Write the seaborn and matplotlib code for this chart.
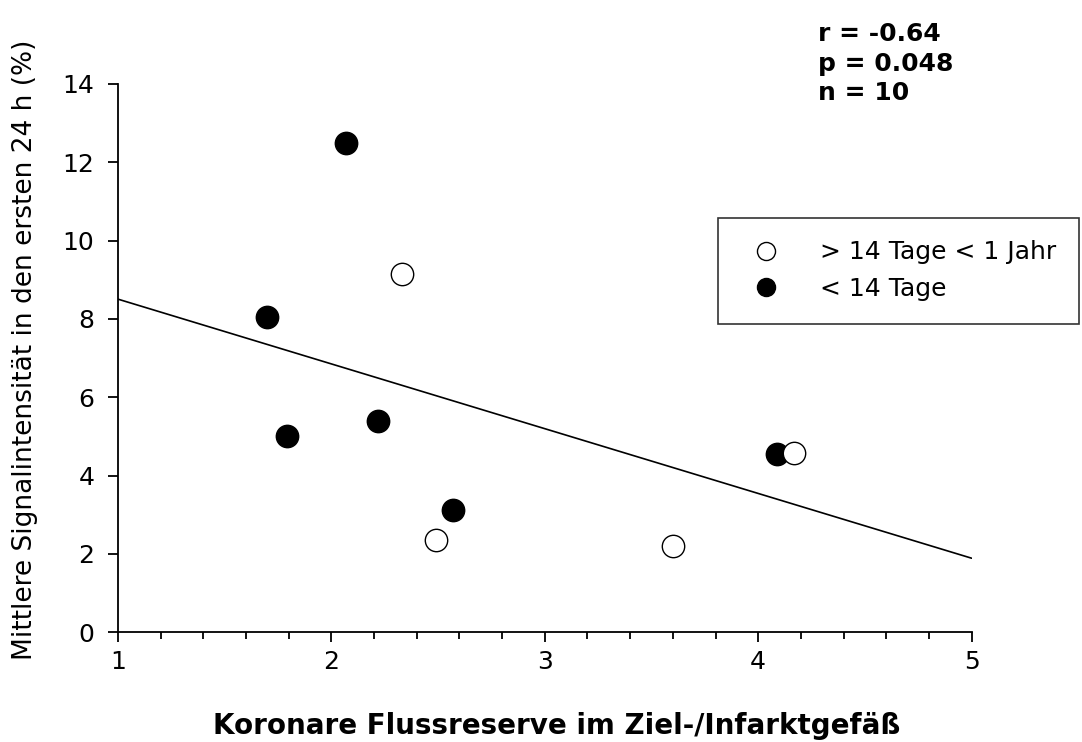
import matplotlib
matplotlib.use("Agg")
import matplotlib.pyplot as plt
import seaborn as sns
import numpy as np
import pandas as pd
from matplotlib.ticker import MultipleLocator
from matplotlib.lines import Line2D

# Data
x_early = [2.07, 1.70, 1.79, 2.22, 2.57, 4.09]   # < 14 Tage (filled)
y_early = [12.48, 8.05, 5.02, 5.38, 3.12, 4.55]
x_late = [2.33, 2.49, 3.60, 4.17]               # > 14 Tage < 1 Jahr (open)
y_late = [9.15, 2.35, 2.20, 4.57]
label_late = "> 14 Tage < 1 Jahr"
label_early = "< 14 Tage"
stats_text = "r = -0.64\np = 0.048\nn = 10"
xlabel = "Koronare Flussreserve im Ziel-/Infarktgefäß"
ylabel = "Mittlere Signalintensität in den ersten 24 h (%)"

sns.set_theme(style="white")
plt.rcParams['font.family'] = ['DejaVu Sans']
plt.rcParams['text.color'] = 'black'

fig = plt.figure(figsize=(10.82, 7.42), dpi=100)
ax = fig.add_axes([0.109, 0.148, 0.789, 0.739])
ax.set_xlim(1, 5)
ax.set_ylim(0, 14)

df_all = pd.DataFrame({"x": x_early + x_late, "y": y_early + y_late})
sns.regplot(data=df_all, x="x", y="y", scatter=False, ci=None, truncate=False,
            color="black", line_kws={"lw": 1.2}, ax=ax)

sns.scatterplot(x=x_early, y=y_early, s=260, color="black", edgecolor="black",
                linewidth=1, ax=ax, zorder=3)
sns.scatterplot(x=x_late, y=y_late, s=260, facecolor="white", edgecolor="black",
                linewidth=1, ax=ax, zorder=3)

ax.set_xlim(1, 5)
ax.set_ylim(0, 14)
sns.despine(ax=ax)
for sp in ["left", "bottom"]:
    ax.spines[sp].set_color("black")
    ax.spines[sp].set_linewidth(1.3)

ax.xaxis.set_major_locator(MultipleLocator(1))
ax.xaxis.set_minor_locator(MultipleLocator(0.2))
ax.yaxis.set_major_locator(MultipleLocator(2))
ax.tick_params(axis="both", which="major", direction="out", length=7, width=1.3,
               color="black", labelsize=18, labelcolor="black", bottom=True, left=True)
ax.tick_params(axis="x", which="minor", direction="out", length=5, width=1.3,
               color="black", bottom=True)
ax.tick_params(axis="x", which="major", pad=6)
ax.tick_params(axis="y", which="major", pad=10)

ax.set_xlabel(xlabel, fontsize=20, fontweight="bold", color="black")
ax.set_ylabel(ylabel, fontsize=19, color="black")
ax.xaxis.set_label_coords((557 - 118) / 854, -(726 - 632) / 548)
ax.yaxis.set_label_coords(-(118 - 25) / 854, (632 - 350) / 548)
ax.xaxis.label.set_va("center")
ax.yaxis.label.set_va("center")

fig.text(818 / 1082, 1 - 22 / 742, stats_text, fontsize=18, fontweight="bold",
         ha="left", va="top", linespacing=1.3, color="black")

handles = [
    Line2D([], [], marker="o", ls="", markersize=13, markerfacecolor="white",
           markeredgecolor="black", markeredgewidth=1),
    Line2D([], [], marker="o", ls="", markersize=13, markerfacecolor="black",
           markeredgecolor="black"),
]
leg = fig.legend(handles, [label_late, label_early], loc="upper left",
                 bbox_to_anchor=(718 / 1082, 1 - 218 / 742), borderaxespad=0,
                 fontsize=18, frameon=True, fancybox=False, edgecolor="black",
                 borderpad=0.9, handletextpad=1.2, labelspacing=0.5,
                 labelcolor="black")
leg.get_frame().set_linewidth(1.2)

fig.savefig("out.png", dpi=100)
